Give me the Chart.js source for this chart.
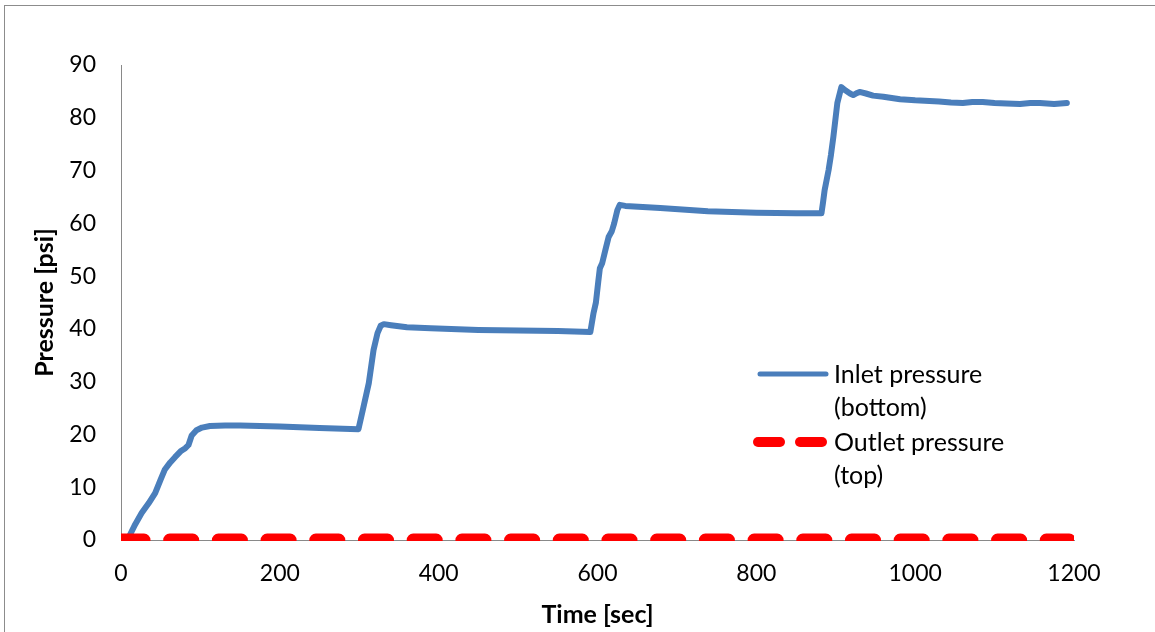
<!DOCTYPE html>
<html>
<head>
<meta charset="utf-8">
<script src="https://cdn.jsdelivr.net/npm/chart.js@4/dist/chart.umd.min.js"></script>
<style>
  html, body { margin: 0; padding: 0; background: #fff; overflow: hidden; }
  #wrap { position: relative; width: 1155px; height: 632px; }
  #frame { position: absolute; left: 4px; top: 5px; width: 1200px; height: 700px;
           border-left: 1.5px solid #8c8c8c; border-top: 1.5px solid #8c8c8c; pointer-events: none; }
  .legend { position: absolute; left: 834px; font: 25px Lato, sans-serif; line-height: 33px; color: #000; }
  svg.key { position: absolute; left: 0; top: 0; }
</style>
</head>
<body>
<div id="wrap">
  <canvas id="pressureChart" width="1155" height="632"></canvas>
  <div id="frame"></div>
  <svg class="key" width="1155" height="632">
    <line x1="760" y1="374" x2="826" y2="374" stroke="#4a7ebb" stroke-width="5" stroke-linecap="round"/>
    <line x1="758" y1="442" x2="780" y2="442" stroke="#ff0000" stroke-width="10" stroke-linecap="round"/>
    <line x1="800" y1="442" x2="822" y2="442" stroke="#ff0000" stroke-width="10" stroke-linecap="round"/>
  </svg>
  <div class="legend" style="top:357px">Inlet pressure<br>(bottom)</div>
  <div class="legend" style="top:425px">Outlet pressure<br>(top)</div>
</div>
<script>
// inlet pressure (bottom)
const inletTime = [11, 18, 26, 35, 43, 50, 55, 62, 68, 75, 81, 85, 89, 95, 102, 112, 131, 150, 200, 250, 299,
  305, 312, 318, 323, 327, 331, 340, 360, 390, 450, 500, 550, 591,
  595, 598, 601, 603, 606, 610, 614, 618, 621, 625, 628, 635, 679, 739, 800, 850, 882,
  884, 886, 891, 894, 897, 902, 907, 912, 918, 922, 927, 930, 938, 947, 960, 981, 1000, 1018, 1030,
  1045, 1060, 1072, 1085, 1100, 1115, 1132, 1145, 1157, 1175, 1191];
const inletPsi = [0.9, 3, 5.1, 7, 8.9, 11.5, 13.3, 14.7, 15.7, 16.8, 17.4, 18.0, 19.8, 20.8, 21.3, 21.6, 21.7, 21.7, 21.5, 21.2, 21.0,
  25, 29.7, 36, 39.2, 40.6, 40.9, 40.7, 40.3, 40.1, 39.8, 39.7, 39.6, 39.4,
  43, 45, 49, 51.5, 52.5, 55, 57.4, 58.5, 60, 62.5, 63.5, 63.3, 62.9, 62.3, 62.0, 61.9, 61.9,
  64, 66.3, 70.1, 73, 76.4, 82.8, 85.8, 85.2, 84.6, 84.3, 84.7, 84.9, 84.6, 84.2, 84.0, 83.5, 83.3, 83.2, 83.1,
  82.9, 82.8, 83.0, 83.0, 82.8, 82.7, 82.6, 82.8, 82.8, 82.6, 82.8];

// outlet pressure (top) stays at zero
const outletTime = [0, 300, 600, 900, 1200];
const outletPsi = [0, 0, 0, 0, 0];

const xTicks = { min: 0, max: 1200, step: 200 };
const yTicks = { min: 0, max: 90, step: 10 };

const toPoints = (xs, ys) => xs.map((x, i) => ({ x, y: ys[i] }));

Chart.defaults.font.family = 'Lato, sans-serif';
Chart.defaults.color = '#000';

const axisColor = '#898989';

new Chart(document.getElementById('pressureChart'), {
  type: 'line',
  data: {
    datasets: [
      {
        label: 'Outlet pressure (top)',
        data: toPoints(outletTime, outletPsi),
        borderColor: '#ff0000',
        borderWidth: 13,
        borderDash: [23, 25.7],
        borderCapStyle: 'round',
        pointRadius: 0,
        clip: { left: 0, top: 0, right: 0, bottom: 1 },
        order: 0,
      },
      {
        label: 'Inlet pressure (bottom)',
        data: toPoints(inletTime, inletPsi),
        borderColor: '#4a7ebb',
        borderWidth: 6,
        borderJoinStyle: 'round',
        borderCapStyle: 'round',
        pointRadius: 0,
        tension: 0,
        order: 1,
      },
    ],
  },
  options: {
    responsive: false,
    animation: false,
    layout: { padding: { left: 0, right: 81, top: 65, bottom: 0 } },
    plugins: { legend: { display: false }, tooltip: { enabled: false } },
    scales: {
      x: {
        type: 'linear',
        min: xTicks.min,
        max: xTicks.max,
        ticks: { stepSize: xTicks.step, padding: 20, font: { size: 23 }, callback: v => String(v) },
        grid: { display: false, drawTicks: false },
        border: { color: axisColor, width: 1 },
        title: { display: true, text: 'Time [sec]', font: { size: 25, weight: 'bold' }, padding: { top: 4, bottom: 2 } },
        afterFit(scale) { scale.height = 92; },
      },
      y: {
        min: yTicks.min,
        max: yTicks.max,
        ticks: { stepSize: yTicks.step, padding: 25, font: { size: 23 } },
        grid: { display: false, drawTicks: false },
        border: { color: axisColor, width: 1 },
        title: { display: true, text: 'Pressure [psi]', font: { size: 25, weight: 'bold' }, padding: { top: 30, bottom: 0 } },
        afterFit(scale) { scale.width = 121; },
      },
    },
  },
});
</script>
</body>
</html>
